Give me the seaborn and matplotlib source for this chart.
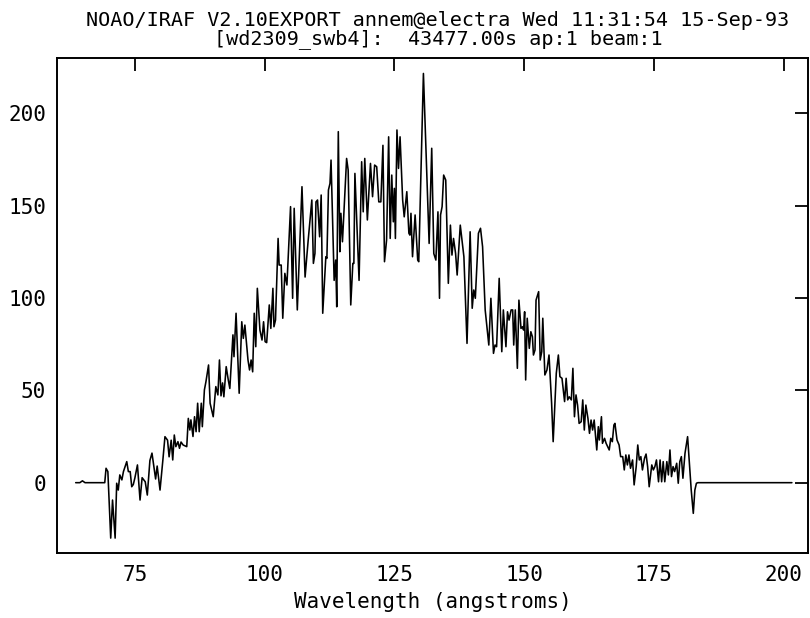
import matplotlib
matplotlib.use("Agg")
import matplotlib.pyplot as plt
import seaborn as sns
import pandas as pd

# Wavelength (angstroms) of each vertex
wavelength = [
    63.6, 64.4, 64.9, 65.4, 69.2, 69.45, 69.8, 70.35, 70.7, 71.2, 71.5, 71.8, 72.1, 72.5, 72.8,
    73.44, 73.75, 74.1, 74.4, 74.7, 75.0, 75.5, 76.0, 76.4, 77.0, 77.4,
    77.9, 78.3, 78.6, 79.0, 79.3, 79.85, 80.4, 80.8, 81.3, 81.6, 82.0, 82.3, 82.6, 82.9,
    83.3, 83.6, 83.9, 84.3, 85.0, 85.3, 85.6, 85.8, 86.2, 86.5, 86.8, 87.1, 87.4, 87.8,
    88.0, 88.4, 88.7, 89.2, 89.5, 90.1, 90.6, 91.0, 91.3, 91.6, 91.9, 92.15, 92.6, 93.0,
    93.3, 93.9, 94.1, 94.5, 95.1, 95.6, 95.9, 96.2, 96.8, 97.1, 97.4, 97.7, 98.0, 98.3,
    98.6, 99.1, 99.5, 99.8, 100.1, 100.4, 100.9, 101.2, 101.6, 101.8, 102.1, 102.6, 102.8,
    103.2, 103.5, 103.9, 104.3, 105.0, 105.4, 105.7, 106.3, 107.2, 107.8, 108.4, 109.1,
    109.4, 109.7, 109.9, 110.2, 110.6, 110.9, 111.2, 111.8, 112.0, 112.3, 112.6, 112.8,
    113.4, 113.7, 113.9, 114.2, 114.5, 114.7, 115.0, 115.8, 116.1, 116.6, 117.0, 117.2,
    117.4, 118.2, 118.7, 119.0, 119.3, 119.8, 120.4, 120.8, 121.2, 121.6, 122.0, 122.4,
    122.8, 123.1, 123.5, 123.9, 124.2, 124.5, 124.8, 125.0, 125.2, 125.5, 125.8, 126.1,
    126.6, 126.9, 127.4, 127.8, 128.0, 128.2, 128.5, 129.0, 129.5, 129.7, 130.6, 131.7,
    132.2, 132.6, 133.0, 133.4, 133.7, 133.9, 134.2, 134.5, 134.9, 135.4, 135.8, 136.1,
    136.4, 136.8, 137.1, 137.7, 138.4, 139.0, 139.6, 140.0, 140.3, 140.6, 141.2, 141.6,
    142.0, 142.5, 143.2, 143.6, 144.1, 144.4, 144.7, 145.2, 145.7, 146.0, 146.5, 146.8,
    147.1, 147.5, 147.8, 148.0, 148.3, 148.7, 149.0, 149.4, 149.7, 149.9, 150.1, 150.3,
    150.6, 151.0, 151.3, 151.6, 151.8, 152.1, 152.3, 152.8, 153.1, 153.4, 153.6, 154.0,
    154.4, 154.8, 155.3, 155.6, 156.2, 156.6, 156.9, 157.3, 157.8, 158.1, 158.4, 158.7,
    159.1, 159.4, 159.7, 160.0, 160.3, 160.6, 161.0, 161.3, 161.6, 161.9, 162.3, 162.6,
    162.9, 163.2, 163.5, 164.0, 164.3, 164.5, 164.9, 165.1, 165.5, 165.8, 166.1, 166.4,
    166.7, 167.0, 167.3, 167.5, 167.9, 168.3, 168.6, 169.0, 169.3, 169.6, 169.9, 170.2,
    170.5, 170.9, 171.2, 171.6, 171.9, 172.2, 172.5, 172.8, 173.2, 173.5, 173.8, 174.1,
    174.6, 174.9, 175.2, 175.5, 175.9, 176.2, 176.5, 176.8, 177.1, 177.5, 177.8, 178.1,
    178.4, 178.7, 179.0, 179.4, 179.7, 180.0, 180.3, 180.6, 181.0, 181.5, 181.9, 182.2,
    182.6, 182.9, 183.2, 183.5, 201.6,
]

# Flux at each vertex
flux = [
    0, 0, 1.0, 0, 0, 7.8, 6.0, -30, -9.4, -30, -0.3, -4, 4.2, 1.5, 6,
    11.4, 6, 6, -2.2, -1, 2.5, 9.6, -9.4, 2.7, 0.5, -6.7,
    12, 16, 10, 2, 9, -4, 12.3, 24.9, 23, 14, 23, 12.3, 25.8, 19.5,
    22.2, 18.6, 22, 20.4, 19.5, 34.8, 28.5, 34, 25, 35.7, 27.6, 43, 27.6, 43,
    30.3, 50.2, 54.7, 63.7, 43, 35.7, 52, 47.5, 66.4, 47, 54, 46.5, 62.8, 55.6,
    51, 80, 68.2, 91.7, 48.4, 87.1, 78.1, 85.3, 66.4, 61, 66.4, 60, 91.7, 73.6,
    105.2, 82.6, 77.2, 87.1, 76.3, 75.8, 96.2, 83.5, 105.2, 84.4, 88, 132.2, 117.8,
    117.8, 89, 113.3, 107, 149.4, 99.8, 148.5, 93.5, 160.2, 111.3, 131.3, 153,
    118.7, 124.1, 152, 153, 133.1, 155.7, 91.7, 122.3, 121.4, 158.4, 162, 174.6,
    109.5, 120.5, 95.2, 190, 125, 145.8, 130.4, 175.5, 169.2, 96.2, 118.7, 118.7,
    167.4, 109.5, 173.7, 146.6, 175.5, 142.2, 172.8, 154.8, 171.9, 171, 152, 152,
    182.6, 119.6, 131.3, 187.2, 132.2, 166.5, 141.2, 159.3, 132.2, 190.9, 170.1, 187.2,
    153, 143.9, 157.5, 135, 134, 145.8, 122.3, 144.9, 120.5, 119.6, 221.5, 129.5,
    181, 124, 120.5, 146.6, 99.8, 144.9, 149.4, 166.5, 163.8, 107.9, 139.4, 123.2,
    132.2, 124, 112.4, 139.4, 122.3, 75.4, 135.8, 94.4, 104.3, 99.8, 135, 137.7,
    127.7, 93.5, 74.5, 99.8, 70, 74.5, 73.6, 110.6, 70.9, 93.5, 73.6, 92.5,
    88, 93.5, 93.5, 74.5, 93.5, 61.9, 98.8, 83.5, 84.4, 82.6, 92.5, 55.6,
    89, 72.7, 81.7, 79, 69.1, 71.8, 98.8, 103.4, 66.4, 70.9, 89, 58.3,
    61, 69.1, 43, 22.2, 59.2, 69.1, 57.4, 56.5, 43.9, 56.5, 44.8, 46.5,
    44.8, 61.9, 35.7, 47.5, 42, 32.1, 33, 44.8, 28.5, 42, 34.8, 26.7,
    33.9, 28.5, 33.9, 17.7, 30.3, 23.1, 35.7, 21.3, 24, 21.3, 19.5, 17.7,
    24, 22.2, 31.2, 32.1, 23.1, 20.4, 14.1, 14.1, 6.9, 15, 9.6, 15,
    7.8, 12.3, -1.2, 8.7, 20.4, 12.3, 14.1, 6.9, 13.2, 15.5, 8.7, -2.2,
    9.6, 6.9, 8.7, 12.3, 0.5, 12.3, 0.5, 11.4, 0.5, 11.4, 4.2, 17.7,
    3.3, 8.7, 6, 10.5, -0.3, 11.4, 14.1, 2.4, 15.9, 24.9, 8.7, -4,
    -16.6, -4, -0.3, 0, 0,
]

x_ticks = [75, 100, 125, 150, 175, 200]
y_ticks = [0, 50, 100, 150, 200]
title_line1 = "NOAO/IRAF V2.10EXPORT annem@electra Wed 11:31:54 15-Sep-93"
title_line2 = "[wd2309_swb4]:  43477.00s ap:1 beam:1"
x_label = "Wavelength (angstroms)"

df = pd.DataFrame({"wavelength": wavelength, "flux": flux})

sns.set_theme(style="white")
plt.rcParams["font.family"] = ["DejaVu Sans Mono", "DejaVu Sans"]

fig = plt.figure(figsize=(8.1, 6.18), dpi=100)
ax = fig.add_axes([57 / 810, 1 - 552.7 / 618, (808 - 57) / 810, (552.7 - 58.3) / 618])

sns.lineplot(data=df, x="wavelength", y="flux", ax=ax, estimator=None, sort=False,
             color="black", linewidth=1.15)

ax.set_xlim(60.0, 204.7)
ax.set_ylim(-37.9, 229.7)
ax.set_xticks(x_ticks)
ax.set_yticks(y_ticks)
ax.tick_params(axis="both", which="major", direction="in", length=9.5, width=1.3,
               top=True, right=True, color="black", labelsize=15, labelcolor="black")
ax.tick_params(axis="x", pad=9)
ax.tick_params(axis="y", pad=8)
for s in ax.spines.values():
    s.set_color("black")
    s.set_linewidth(1.4)
    s.set_visible(True)

ax.set_xlabel(x_label, fontsize=15, color="black", labelpad=5)
ax.set_ylabel("")
ax.grid(False)

cx = 438 / 810
fig.text(cx, 1 - 11.5 / 618, title_line1 + "\n" + title_line2, ha="center", va="top",
         multialignment="center", fontsize=14.5, color="black", linespacing=0.88)

fig.savefig("out.png", dpi=100, facecolor="white")
